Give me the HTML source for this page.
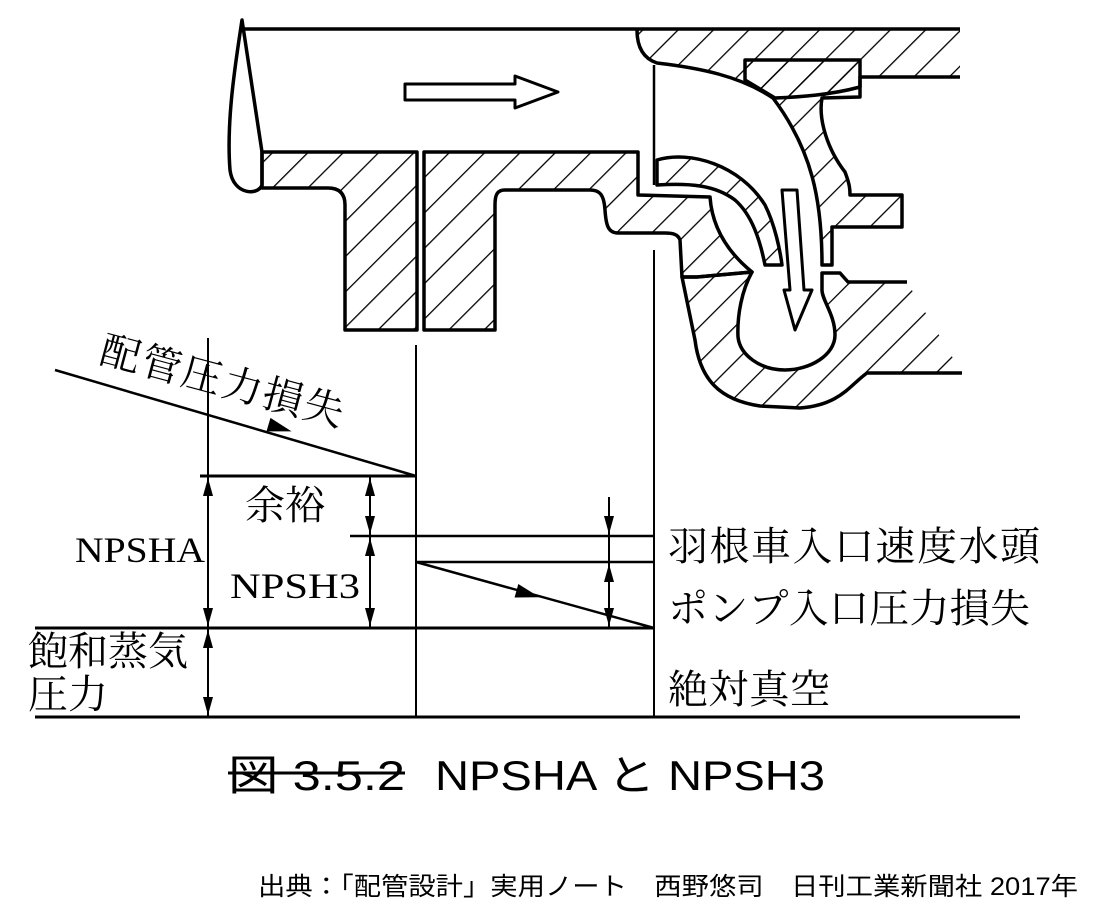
<!DOCTYPE html>
<html><head><meta charset="utf-8"><style>
html,body{margin:0;padding:0;background:#fff}
svg{display:block}
.s{font-family:"Liberation Serif","Noto Serif CJK JP",serif}
.g{font-family:"Liberation Sans","Noto Sans CJK JP",sans-serif}
</style></head><body>
<svg width="1095" height="917" viewBox="0 0 1095 917" xmlns="http://www.w3.org/2000/svg">
<defs>
<pattern id="h" patternUnits="userSpaceOnUse" width="25" height="25" patternTransform="rotate(45)">
<line x1="0" y1="0" x2="0" y2="25" stroke="#000" stroke-width="2.6"/>
</pattern>
</defs>
<g stroke="#000" stroke-width="3.5" fill="url(#h)" stroke-linejoin="round">
<line x1="242" y1="29" x2="960" y2="29" fill="none"/>
<path d="M242,20 C236,60 226,120 230,170 C233,195 258,196 262,185 L262,152 Z" fill="#fff"/>
<path d="M262,152 L417,152 L417,330 L345,330 L345,205 Q345,188 328,188 L262,188 Z"/>
<path d="M424,152 L638,152 L638,195 L710,197 C712,225 725,250 752,272 L697,277 L682,277 L680,240 C678,234 672,233 665,233 L618,233 C608,233 606,225 605,210 C604,195 600,190 590,190 L505,190 C497,190 495,195 495,205 L495,330 L424,330 Z"/>
<!-- volute lower: fill + open outline -->
<path stroke="none" d="M682,277 L697,277 L752,272 C742,290 737,315 738,337 C740,355 760,370 785,370 C810,370 835,355 835,335 C835,315 822,300 822,290 L822,273 L840,273 L848,282 L907,282 L962,373 L867,373 C850,385 840,405 800,408 L760,406 C720,400 700,380 695,340 Z"/>
<path fill="none" d="M907,282 L848,282 L840,273 L822,273 L822,290 C822,300 835,315 835,335 C835,355 810,370 785,370 C760,370 740,355 738,337 C737,315 742,290 752,272 L697,277 L682,277 L695,340 C700,380 720,400 760,406 L800,408 C840,405 850,385 867,373 L962,373"/>
<path d="M657,160 C690,150 740,165 765,205 C775,225 780,250 782,265 L765,265 C760,240 752,215 735,200 C715,185 690,183 657,185 Z"/>
<!-- top casing: fill + open outline -->
<path stroke="none" d="M637,30 L960,30 L960,77 L860,77 L860,97 L822,98 C818,120 828,150 845,172 C850,185 850,190 850,195 L902,195 L902,227 L832,227 L832,265 L822,265 C822,200 812,150 773,98 C740,76 700,68 657,63 C642,58 637,45 637,30 Z"/>
<path fill="none" d="M960,77 L860,77 L860,97 L822,98 C818,120 828,150 845,172 C850,185 850,190 850,195 L902,195 L902,227 L832,227 L832,265 L822,265 C822,200 812,150 773,98 C740,76 700,68 657,63 C642,58 637,45 637,30"/>
<path d="M745,60 L860,60 L860,87 C830,95 800,97 775,98 L745,80 Z"/>
<line x1="654" y1="65" x2="654" y2="185" fill="none" stroke-width="2.5"/>
<path d="M405,84 L515,84 L515,76 L558,92 L515,108 L515,100 L405,100 Z" fill="#fff" stroke-width="3"/>
<path d="M782,190 L797,190 L804,290 L812,290 L795,330 L784,290 L790,290 Z" fill="#fff" stroke-width="3"/>
</g>
<g stroke="#000" fill="none">
<line x1="208" y1="338" x2="208" y2="717" stroke-width="2"/>
<line x1="416" y1="345" x2="416" y2="717" stroke-width="2"/>
<line x1="654" y1="250" x2="654" y2="717" stroke-width="2"/>
<line x1="55" y1="370" x2="416" y2="476" stroke-width="2.5"/>
<line x1="200" y1="476" x2="416" y2="476" stroke-width="3"/>
<line x1="350" y1="536" x2="654" y2="536" stroke-width="2.5"/>
<line x1="416" y1="562" x2="654" y2="562" stroke-width="2.5"/>
<line x1="416" y1="562" x2="654" y2="628" stroke-width="2.5"/>
<line x1="35" y1="628" x2="654" y2="628" stroke-width="3"/>
<line x1="35" y1="717" x2="1020" y2="717" stroke-width="3"/>
<line x1="370" y1="476" x2="370" y2="628" stroke-width="2"/>
<line x1="609" y1="497" x2="609" y2="628" stroke-width="2"/>
</g>
<g fill="#000">
<polygon points="292,428 268,421 268,435" transform="rotate(16.4,280,428)"/>
<polygon points="540,594 516,587 516,601" transform="rotate(15.5,528,594)"/>
<polygon points="208,478 203,496 213,496"/><polygon points="208,626 203,608 213,608"/>
<polygon points="208,630 203,648 213,648"/><polygon points="208,715 203,697 213,697"/>
<polygon points="370,478 365,496 375,496"/><polygon points="370,534 365,516 375,516"/>
<polygon points="370,538 365,556 375,556"/><polygon points="370,626 365,608 375,608"/>
<polygon points="609,534 604,516 614,516"/>
<polygon points="609,564 604,582 614,582"/><polygon points="609,626 604,608 614,608"/>
</g>
<g class="s" fill="#000">
<text x="98" y="362" font-size="40" textLength="250" transform="rotate(15,98,362)">配管圧力損失</text>
<text x="245" y="519" font-size="40" textLength="80">余裕</text>
<text x="75" y="562" font-size="36" textLength="130" lengthAdjust="spacingAndGlyphs">NPSHA</text>
<text x="230" y="598" font-size="36" textLength="130" lengthAdjust="spacingAndGlyphs">NPSH3</text>
<text x="28" y="665" font-size="40" textLength="160">飽和蒸気</text>
<text x="28" y="708" font-size="40" textLength="80">圧力</text>
<text x="668" y="560" font-size="40" textLength="372">羽根車入口速度水頭</text>
<text x="668" y="622" font-size="40" textLength="362">ポンプ入口圧力損失</text>
<text x="668" y="703" font-size="40" textLength="162">絶対真空</text>
</g>
<g class="g" fill="#000">
<text x="228" y="790" font-size="42" textLength="177" lengthAdjust="spacingAndGlyphs">図 3.5.2</text>
<line x1="228" y1="773" x2="405" y2="773" stroke="#000" stroke-width="3"/>
<text x="435" y="790" font-size="42" textLength="390" lengthAdjust="spacingAndGlyphs">NPSHA と NPSH3</text>
<text x="258" y="895" font-size="25" textLength="820" lengthAdjust="spacingAndGlyphs">出典：「配管設計」実用ノート　西野悠司　日刊工業新聞社 2017年</text>
</g>
</svg>
</body></html>
